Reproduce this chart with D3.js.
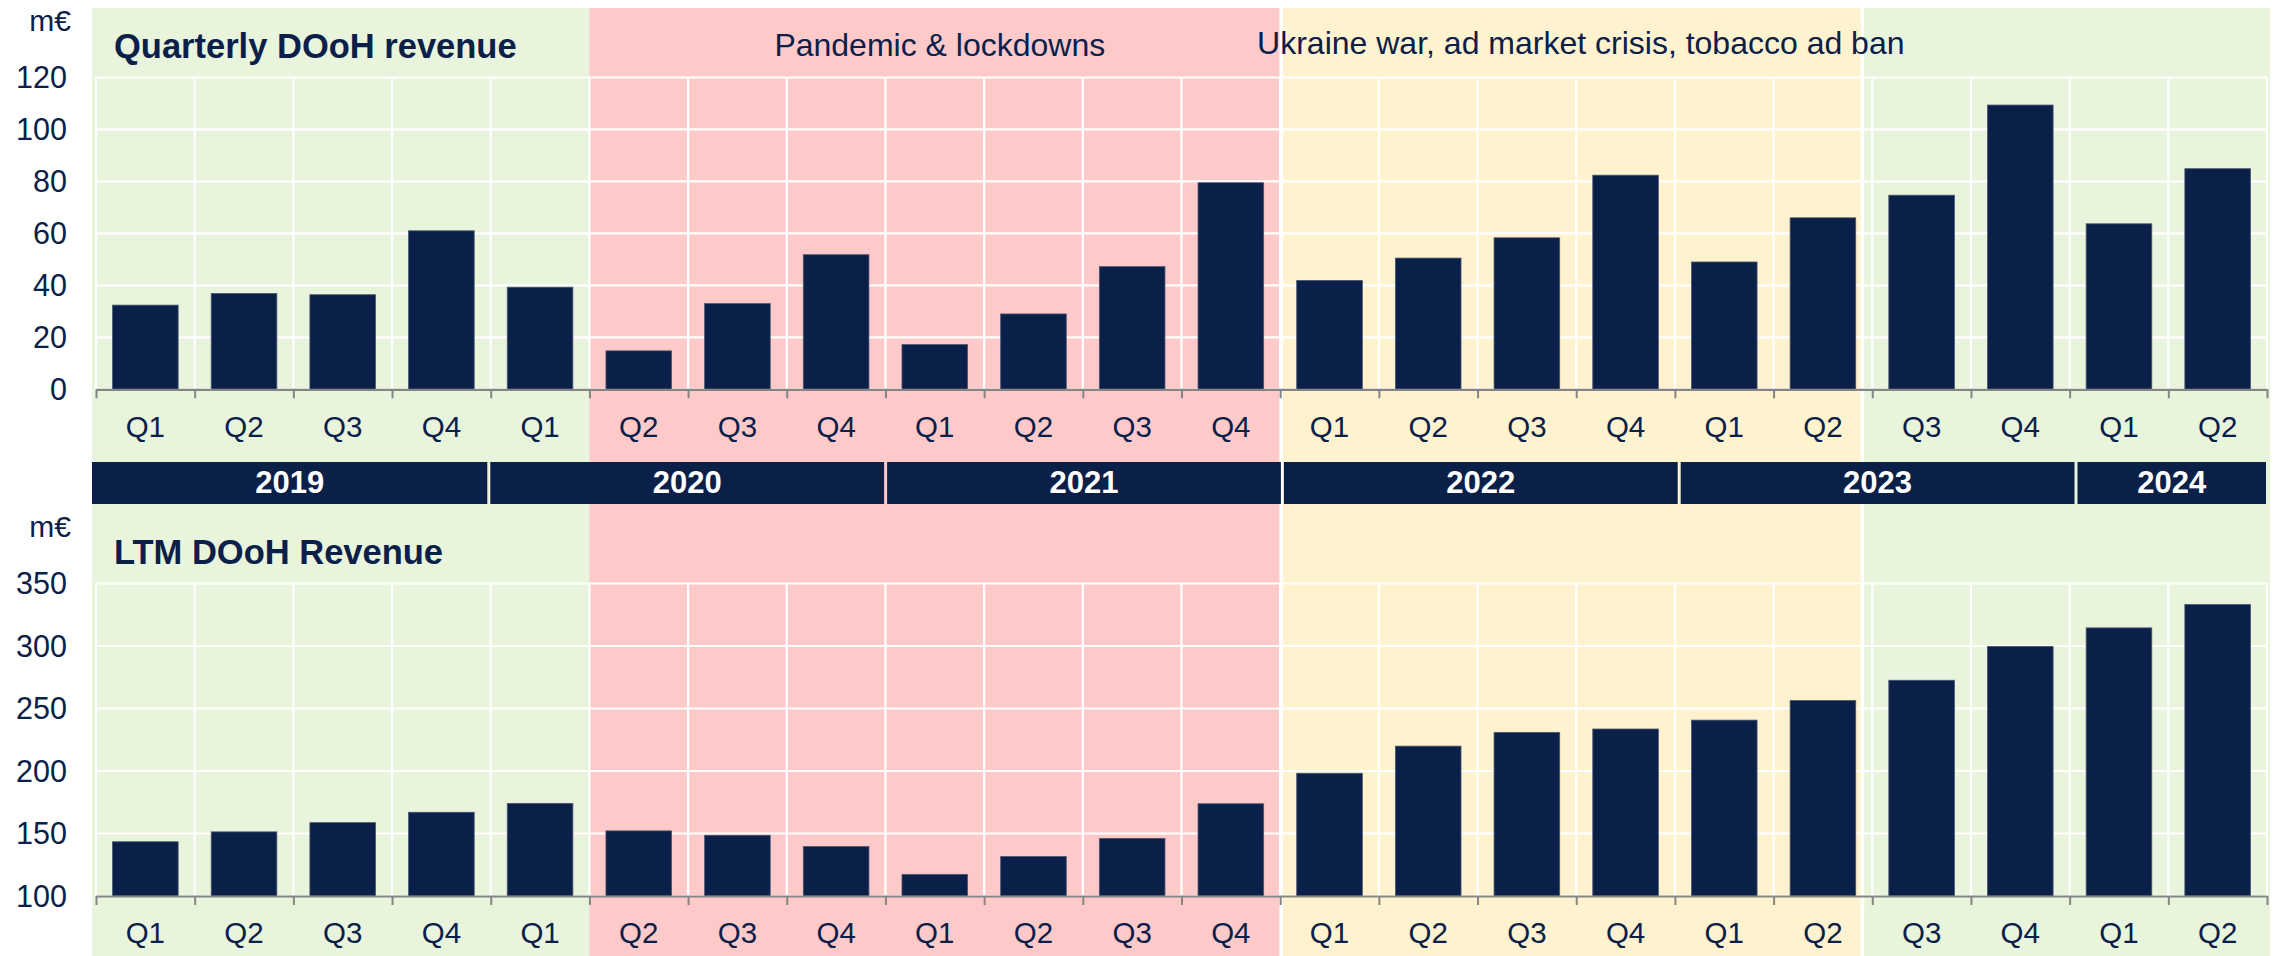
<!DOCTYPE html>
<html>
<head>
<meta charset="utf-8">
<script src="https://cdn.jsdelivr.net/npm/d3@7"></script>
<style>
  body { margin: 0; background: #ffffff; }
  svg { display: block; }
  text { font-family: "Liberation Sans", Arial, Helvetica, sans-serif; }
</style>
</head>
<body>
<svg id="chart" width="2273" height="956"></svg>
<script>
// ---------------- DATA ----------------
const periods = ["2019Q1","2019Q2","2019Q3","2019Q4","2020Q1","2020Q2","2020Q3","2020Q4",
                 "2021Q1","2021Q2","2021Q3","2021Q4","2022Q1","2022Q2","2022Q3","2022Q4",
                 "2023Q1","2023Q2","2023Q3","2023Q4","2024Q1","2024Q2"];
const quarterLabels = ["Q1","Q2","Q3","Q4","Q1","Q2","Q3","Q4","Q1","Q2","Q3","Q4",
                       "Q1","Q2","Q3","Q4","Q1","Q2","Q3","Q4","Q1","Q2"];
const years = ["2019","2020","2021","2022","2023","2024"];
const quartersPerYear = [4,4,4,4,4,2];

const quarterlyRevenue = [32.4, 36.9, 36.4, 61.0, 39.3, 14.8, 33.0, 51.8, 17.2, 29.0, 47.2, 79.5,
                          41.9, 50.5, 58.3, 82.4, 49.0, 66.0, 74.7, 109.4, 63.7, 84.9];
const ltmRevenue = [143.4, 151.3, 158.7, 167.0, 174.1, 152.1, 148.6, 139.6, 117.3, 131.6, 146.1, 173.8,
                    198.2, 219.9, 230.9, 233.6, 240.7, 256.4, 272.6, 299.7, 314.5, 333.2];

const quarterlyTicks = [0, 20, 40, 60, 80, 100, 120];
const ltmTicks = [100, 150, 200, 250, 300, 350];

// phases in quarter-index units
const phaseStart = [0, 5, 12, 17.89];
const phaseEnd   = [5, 12, 17.89, 22];
const phaseLabels = ["", "Pandemic & lockdowns", "Ukraine war, ad market crisis, tobacco ad ban", ""];

const chartTitles = ["Quarterly DOoH revenue", "LTM DOoH Revenue"];
const unitLabel = "m€";

// ---------------- STYLE / LAYOUT ----------------
const NAVY = "#0b2049";
const phaseColors = ["#e8f4dc", "#fec9c9", "#fff2cf", "#e8f4dc"];
const W = 2273, H = 956;
const plotL = 96, plotR = 2267;
const bgL = 92, bgR = 2270;

const svg = d3.select("#chart");

const xIdx = d3.scaleLinear().domain([0, periods.length]).range([plotL, plotR]);
const xBand = d3.scaleBand().domain(periods).range([plotL, plotR])
  .paddingInner(0.335).paddingOuter(0.1675);
// year band has its own slightly wider spacing
const xYear = d3.scaleLinear().domain([0, periods.length]).range([bgL, bgL + 22 * 99.2]);

// background phases
const bg = svg.append("g");
phaseStart.forEach((s, i) => {
  const x0 = i === 0 ? bgL : xIdx(s);
  const x1 = i === phaseStart.length - 1 ? bgR : xIdx(phaseEnd[i]);
  bg.append("rect").attr("x", x0).attr("y", 8).attr("width", x1 - x0).attr("height", H - 8)
    .attr("fill", phaseColors[i]);
});
// white separators between later phases
[phaseStart[2], phaseStart[3]].forEach(s => {
  bg.append("line").attr("x1", xIdx(s) + 1).attr("x2", xIdx(s) + 1)
    .attr("y1", 8).attr("y2", H).attr("stroke", "#ffffff").attr("stroke-width", 3.5);
});

// phase annotations
phaseLabels.forEach((lab, i) => {
  if (!lab) return;
  const cx = (xIdx(phaseStart[i]) + xIdx(phaseEnd[i])) / 2 + (i === 2 ? 10 : 5);
  svg.append("text").attr("x", cx).attr("y", i === 2 ? 54 : 56)
    .attr("text-anchor", "middle").attr("font-size", 32).attr("fill", NAVY).text(lab);
});

function panel(values, ticks, top, bottom, title, titleY, unitY, qLabelY) {
  const y = d3.scaleLinear().domain([ticks[0], ticks[ticks.length - 1]]).range([bottom, top]);
  const g = svg.append("g");

  // horizontal grid
  g.selectAll(".hg").data(ticks).join("line")
    .attr("x1", plotL).attr("x2", plotR)
    .attr("y1", d => y(d)).attr("y2", d => y(d))
    .attr("stroke", "#ffffff").attr("stroke-width", 2.2);
  // vertical grid at band boundaries
  g.selectAll(".vg").data(d3.range(periods.length + 1)).join("line")
    .attr("x1", d => xIdx(d)).attr("x2", d => xIdx(d))
    .attr("y1", top).attr("y2", bottom)
    .attr("stroke", "#ffffff").attr("stroke-width", 2.2);

  // bars
  g.selectAll(".bar").data(values).join("rect")
    .attr("x", (d, i) => xBand(periods[i]))
    .attr("width", xBand.bandwidth())
    .attr("y", d => y(d))
    .attr("height", d => y(ticks[0]) - y(d))
    .attr("fill", NAVY)
    .attr("stroke", "#4b5670").attr("stroke-width", 0.8);

  // baseline axis with boundary ticks
  const ax = g.append("g").attr("transform", `translate(0,${bottom})`)
    .call(d3.axisBottom(xIdx).tickValues(d3.range(periods.length + 1)).tickFormat("")
      .tickSize(9).tickSizeOuter(0));
  ax.select(".domain").attr("stroke", "#858585").attr("stroke-width", 2.2);
  ax.selectAll(".tick line").attr("stroke", "#858585").attr("stroke-width", 2);

  // quarter labels
  const qa = g.append("g").attr("transform", `translate(0,${qLabelY})`)
    .call(d3.axisBottom(xBand).tickSize(0).tickPadding(0).tickFormat((d, i) => quarterLabels[i]));
  qa.select(".domain").remove();
  qa.selectAll("text").attr("font-size", 29.5).attr("fill", NAVY)
    .attr("font-family", '"Liberation Sans", Arial, sans-serif')
    .attr("dy", null).attr("y", 0);

  // y axis labels
  const ya = g.append("g").attr("transform", `translate(${plotL},0)`)
    .call(d3.axisLeft(y).tickValues(ticks).tickSize(0).tickPadding(29));
  ya.select(".domain").remove();
  ya.selectAll("text").attr("font-size", 30.5).attr("fill", NAVY)
    .attr("font-family", '"Liberation Sans", Arial, sans-serif')
    .attr("dy", "0.34em");

  // unit label
  svg.append("text").attr("x", 71).attr("y", unitY).attr("text-anchor", "end")
    .attr("font-size", 30).attr("fill", NAVY).text(unitLabel);
  // title
  svg.append("text").attr("x", 114).attr("y", titleY)
    .attr("font-size", 34.5).attr("font-weight", "bold").attr("fill", NAVY).text(title);
}

panel(quarterlyRevenue, quarterlyTicks, 77.5, 389.3, chartTitles[0], 58, 30.5, 437);
panel(ltmRevenue, ltmTicks, 583.5, 896, chartTitles[1], 564, 537, 943);

// year band
const yb = svg.append("g");
let acc = 0;
years.forEach((yr, i) => {
  const s = acc, e = acc + quartersPerYear[i];
  acc = e;
  const x0 = i === 0 ? bgL : xYear(s) + 1.5;
  const x1 = i === years.length - 1 ? 2266 : xYear(e) - 1.5;
  yb.append("rect").attr("x", x0).attr("y", 462).attr("width", x1 - x0).attr("height", 42)
    .attr("fill", NAVY);
  yb.append("text").attr("x", (x0 + x1) / 2).attr("y", 493).attr("text-anchor", "middle")
    .attr("font-size", 31).attr("font-weight", "bold").attr("fill", "#ffffff").text(yr);
});
</script>
</body>
</html>
